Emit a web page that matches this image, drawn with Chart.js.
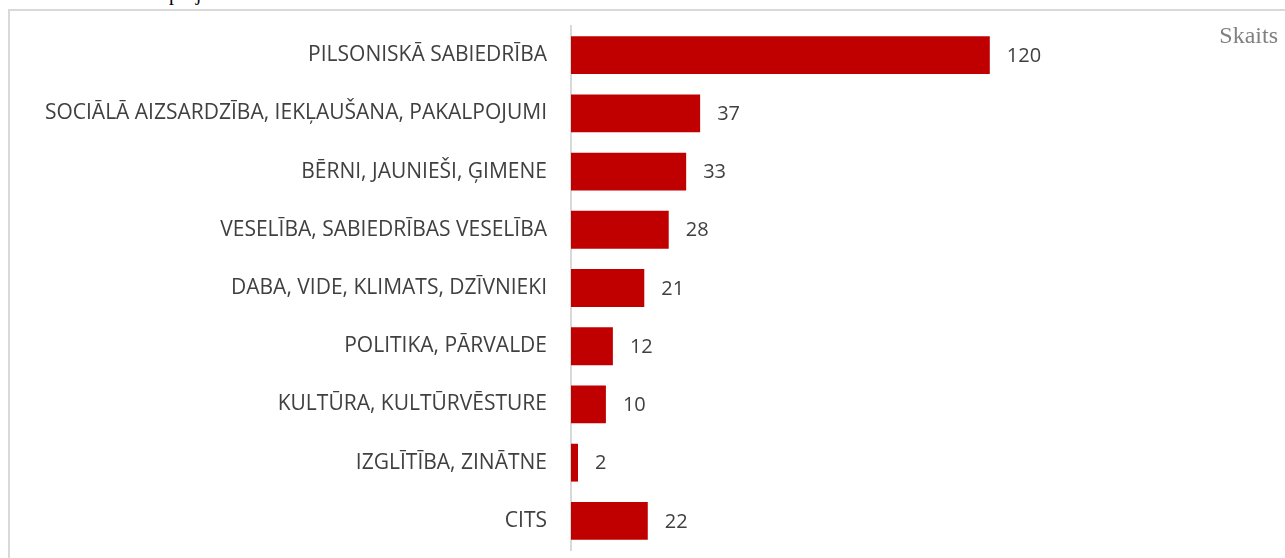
<!DOCTYPE html>
<html>
<head>
<meta charset="utf-8">
<script src="https://cdn.jsdelivr.net/npm/chart.js@4"></script>
<style>
  html, body { margin: 0; padding: 0; background: #fff; }
  #wrap { position: relative; width: 1285px; height: 558px; overflow: hidden; }
  #frame { position: absolute; left: 8px; top: 9px; width: 1300px; height: 600px;
    border-left: 2px solid #d9d9d9; border-top: 2px solid #d9d9d9; }
  #caption { position: absolute; left: 169px; top: -17px; font: 20px/20px "Liberation Serif", serif; color: #000; }
  #unit { position: absolute; right: 7px; top: 22px; font: 24px "Liberation Serif", serif; color: #808080; }
  canvas { position: absolute; left: 0; top: 0; }
</style>
</head>
<body>
<div id="wrap">
  <div id="caption">projekti</div>
  <div id="frame"></div>
  <canvas id="chart" width="1285" height="558"></canvas>
  <div id="unit">Skaits</div>
</div>
<script>
const categories = [
  'PILSONISKĀ SABIEDRĪBA',
  'SOCIĀLĀ AIZSARDZĪBA, IEKĻAUŠANA, PAKALPOJUMI',
  'BĒRNI, JAUNIEŠI, ĢIMENE',
  'VESELĪBA, SABIEDRĪBAS VESELĪBA',
  'DABA, VIDE, KLIMATS, DZĪVNIEKI',
  'POLITIKA, PĀRVALDE',
  'KULTŪRA, KULTŪRVĒSTURE',
  'IZGLĪTĪBA, ZINĀTNE',
  'CITS'
]
const counts = [120, 37, 33, 28, 21, 12, 10, 2, 22]

const valueLabels = {
  id: 'valueLabels',
  afterDatasetsDraw (chart) {
    const ctx = chart.ctx
    const meta = chart.getDatasetMeta(0)
    ctx.save()
    ctx.font = '20px "Open Sans", sans-serif'
    ctx.fillStyle = '#404040'
    ctx.textBaseline = 'middle'
    meta.data.forEach((bar, i) => {
      ctx.fillText(String(counts[i]), bar.x + 17, bar.y + 1)
    })
    ctx.restore()
  }
}

new Chart(document.getElementById('chart'), {
  type: 'bar',
  data: {
    labels: categories,
    datasets: [{
      data: counts,
      backgroundColor: '#c00000',
      barPercentage: 0.65,
      categoryPercentage: 1
    }]
  },
  options: {
    indexAxis: 'y',
    responsive: false,
    animation: false,
    layout: { padding: { top: 26, bottom: 8, right: 16, left: 0 } },
    plugins: {
      legend: { display: false },
      tooltip: { enabled: false }
    },
    scales: {
      x: {
        display: false,
        min: 0,
        max: 200
      },
      y: {
        afterFit: (scale) => {
          scale.width = 571
          scale.paddingTop = 0
          scale.paddingBottom = 0
        },
        grid: { display: false, drawTicks: false },
        border: { display: true, color: '#d9d9d9', width: 2 },
        ticks: {
          padding: 24,
          color: '#404040',
          font: { family: '"Open Sans", sans-serif', size: 21 }
        }
      }
    }
  },
  plugins: [valueLabels]
})
</script>
</body>
</html>
